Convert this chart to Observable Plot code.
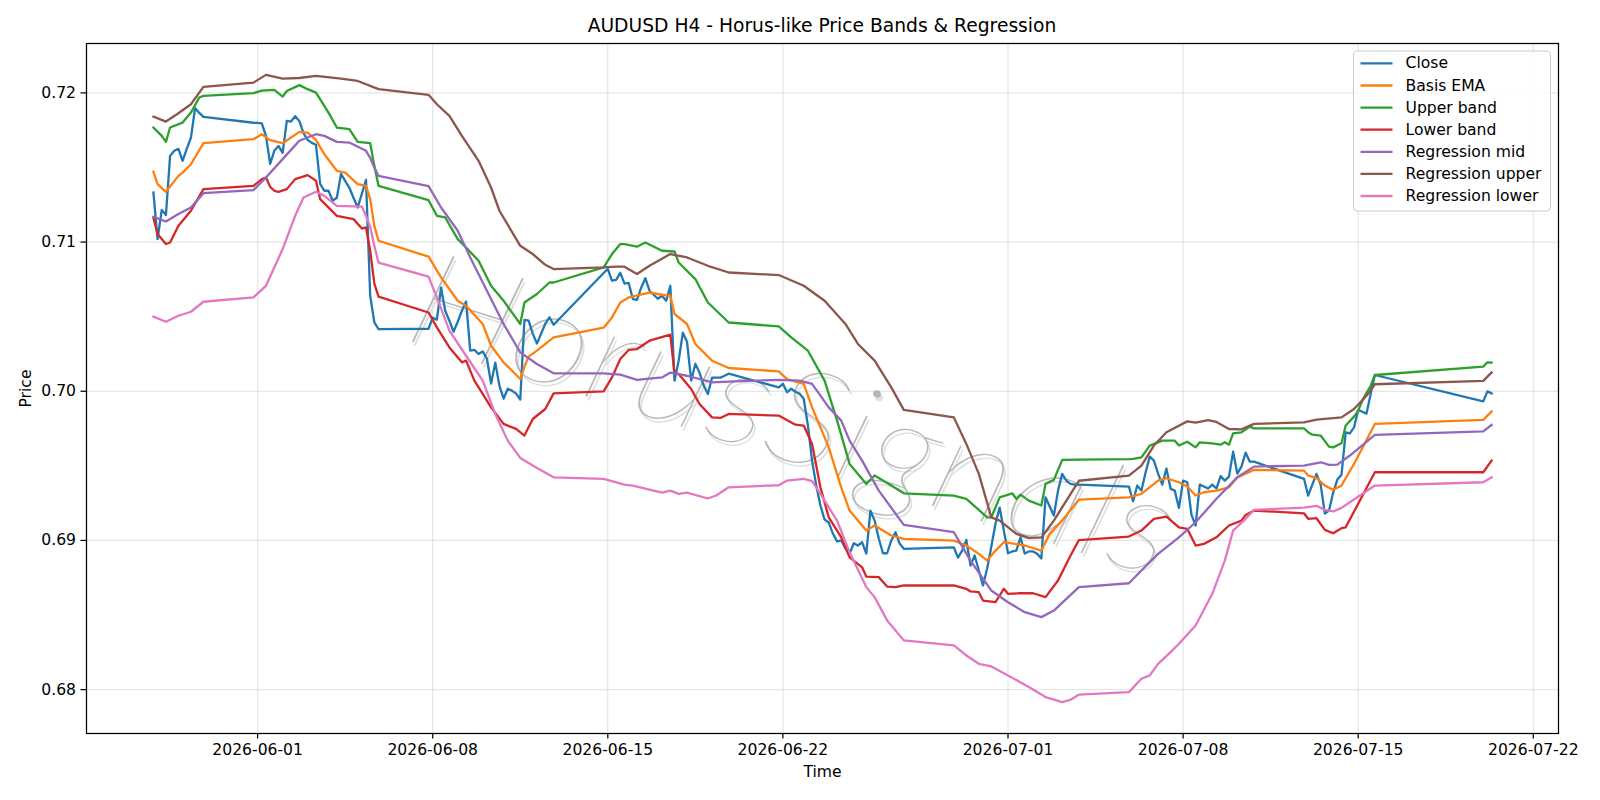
<!DOCTYPE html>
<html><head><meta charset="utf-8">
<script src="https://cdn.jsdelivr.net/npm/d3@7"></script>
<script src="https://cdn.jsdelivr.net/npm/@observablehq/plot@0.6"></script>
<style>
html,body{margin:0;padding:0;background:#fff;}
#wrap{width:1600px;height:800px;position:relative;overflow:hidden;font-family:"DejaVu Sans",sans-serif;background:#fff;}
#title{box-sizing:border-box;width:1600px;height:40px;padding:17px 42px 0 86px;text-align:center;font-size:18.7px;line-height:1;color:#000;white-space:nowrap;}
#chart svg{display:block;}
</style></head><body>
<div id="wrap"><div id="title">AUDUSD H4 - Horus-like Price Bands &amp; Regression</div><div id="chart"></div></div>
<script>
const closeData = [
["2026-05-27 20",0.71332],["2026-05-28 00",0.7102],["2026-05-28 04",0.71216],["2026-05-28 08",0.71181],["2026-05-28 12",0.71578],["2026-05-28 16",0.71612],["2026-05-28 20",0.71625],["2026-05-29 00",0.71545],["2026-05-29 04",0.71625],["2026-05-29 08",0.717],["2026-05-29 12",0.71898],["2026-05-29 16",0.71866],["2026-05-29 20",0.71839],
["2026-05-31 20",0.718],
["2026-06-01 00",0.71799],["2026-06-01 04",0.71796],["2026-06-01 08",0.71712],["2026-06-01 12",0.71524],["2026-06-01 16",0.71612],["2026-06-01 20",0.71645],
["2026-06-02 00",0.71598],["2026-06-02 04",0.71812],["2026-06-02 08",0.71808],["2026-06-02 12",0.71844],["2026-06-02 16",0.71812],["2026-06-02 20",0.7173],
["2026-06-03 00",0.71685],["2026-06-03 04",0.71665],["2026-06-03 08",0.71652],["2026-06-03 12",0.7139],["2026-06-03 16",0.71344],["2026-06-03 20",0.71344],
["2026-06-04 00",0.71277],["2026-06-04 04",0.71297],["2026-06-04 08",0.71457],["2026-06-04 12",0.7141],["2026-06-04 16",0.71364],["2026-06-04 20",0.71297],
["2026-06-05 00",0.71232],["2026-06-05 04",0.71323],["2026-06-05 08",0.71417],["2026-06-05 12",0.7064],["2026-06-05 16",0.70461],["2026-06-05 20",0.70417],
["2026-06-07 20",0.70419],
["2026-06-08 00",0.70493],["2026-06-08 04",0.7048],["2026-06-08 08",0.70694],["2026-06-08 12",0.7054],["2026-06-08 16",0.70473],["2026-06-08 20",0.70399],
["2026-06-09 00",0.70466],["2026-06-09 04",0.7054],["2026-06-09 08",0.70602],["2026-06-09 12",0.70272],["2026-06-09 16",0.70277],["2026-06-09 20",0.7025],
["2026-06-10 00",0.70267],["2026-06-10 04",0.70218],["2026-06-10 08",0.70051],["2026-06-10 12",0.70192],["2026-06-10 16",0.70038],["2026-06-10 20",0.6995],
["2026-06-11 00",0.70017],["2026-06-11 04",0.70004],["2026-06-11 08",0.69984],["2026-06-11 12",0.69944],["2026-06-11 16",0.70478],["2026-06-11 20",0.70473],
["2026-06-12 00",0.70386],["2026-06-12 04",0.70319],["2026-06-12 08",0.70386],["2026-06-12 12",0.70453],["2026-06-12 16",0.70496],["2026-06-12 20",0.70446],
["2026-06-14 20",0.70793],
["2026-06-15 00",0.7082],["2026-06-15 04",0.70741],["2026-06-15 08",0.70747],["2026-06-15 12",0.70794],["2026-06-15 16",0.70721],["2026-06-15 20",0.70727],
["2026-06-16 00",0.70618],["2026-06-16 04",0.70613],["2026-06-16 08",0.70694],["2026-06-16 12",0.70758],["2026-06-16 16",0.70674],["2026-06-16 20",0.70647],
["2026-06-17 00",0.7062],["2026-06-17 04",0.7064],["2026-06-17 08",0.70607],["2026-06-17 12",0.70707],["2026-06-17 16",0.70071],["2026-06-17 20",0.70205],
["2026-06-18 00",0.70392],["2026-06-18 04",0.70332],["2026-06-18 08",0.70071],["2026-06-18 12",0.70185],["2026-06-18 16",0.70125],["2026-06-18 20",0.70038],
["2026-06-19 00",0.69982],["2026-06-19 04",0.70091],["2026-06-19 08",0.70091],["2026-06-19 12",0.70091],["2026-06-19 16",0.70104],["2026-06-19 20",0.70118],
["2026-06-21 20",0.70026],
["2026-06-22 00",0.7005],["2026-06-22 04",0.69993],["2026-06-22 08",0.70017],["2026-06-22 12",0.69997],["2026-06-22 16",0.69984],["2026-06-22 20",0.6995],
["2026-06-23 00",0.6977],["2026-06-23 04",0.69535],["2026-06-23 08",0.69368],["2026-06-23 12",0.69234],["2026-06-23 16",0.6914],["2026-06-23 20",0.6912],
["2026-06-24 00",0.69046],["2026-06-24 04",0.68993],["2026-06-24 08",0.69],["2026-06-24 12",0.68946],["2026-06-24 16",0.68912],["2026-06-24 20",0.68981],
["2026-06-25 00",0.68966],["2026-06-25 04",0.68988],["2026-06-25 08",0.68912],["2026-06-25 12",0.692],["2026-06-25 16",0.69133],["2026-06-25 20",0.69013],
["2026-06-26 00",0.68914],["2026-06-26 04",0.68914],["2026-06-26 08",0.69],["2026-06-26 12",0.69055],["2026-06-26 16",0.68979],["2026-06-26 20",0.68944],
["2026-06-28 20",0.68954],
["2026-06-29 00",0.68885],["2026-06-29 04",0.68932],["2026-06-29 08",0.69004],["2026-06-29 12",0.68832],["2026-06-29 16",0.68899],["2026-06-29 20",0.68798],
["2026-06-30 00",0.68698],["2026-06-30 04",0.68812],["2026-06-30 08",0.68959],["2026-06-30 12",0.69113],["2026-06-30 16",0.6922],["2026-06-30 20",0.69066],
["2026-07-01 00",0.68914],["2026-07-01 04",0.68926],["2026-07-01 08",0.68932],["2026-07-01 12",0.69021],["2026-07-01 16",0.68912],["2026-07-01 20",0.68926],
["2026-07-02 00",0.68926],["2026-07-02 04",0.6891],["2026-07-02 08",0.68879],["2026-07-02 12",0.69289],["2026-07-02 16",0.69227],["2026-07-02 20",0.69167],
["2026-07-03 00",0.69334],["2026-07-03 04",0.69446],["2026-07-03 08",0.694],["2026-07-03 12",0.69379],["2026-07-03 16",0.69374],["2026-07-03 20",0.69374],
["2026-07-05 20",0.69361],
["2026-07-06 00",0.69263],["2026-07-06 04",0.69368],["2026-07-06 08",0.69334],["2026-07-06 12",0.69455],["2026-07-06 16",0.69562],["2026-07-06 20",0.69535],
["2026-07-07 00",0.69448],["2026-07-07 04",0.69374],["2026-07-07 08",0.69482],["2026-07-07 12",0.69346],["2026-07-07 16",0.69334],["2026-07-07 20",0.69218],
["2026-07-08 00",0.69401],["2026-07-08 04",0.6939],["2026-07-08 08",0.69173],["2026-07-08 12",0.691],["2026-07-08 16",0.69374],["2026-07-08 20",0.69361],
["2026-07-09 00",0.69348],["2026-07-09 04",0.69374],["2026-07-09 08",0.69348],["2026-07-09 12",0.69431],["2026-07-09 16",0.69401],["2026-07-09 20",0.69428],
["2026-07-10 00",0.69595],["2026-07-10 04",0.69448],["2026-07-10 08",0.69495],["2026-07-10 12",0.69589],["2026-07-10 16",0.69528],["2026-07-10 20",0.69528],
["2026-07-12 20",0.69413],
["2026-07-13 00",0.69301],["2026-07-13 04",0.69374],["2026-07-13 08",0.69446],["2026-07-13 12",0.69374],["2026-07-13 16",0.6918],["2026-07-13 20",0.692],
["2026-07-14 00",0.69321],["2026-07-14 04",0.69408],["2026-07-14 08",0.69441],["2026-07-14 12",0.69725],["2026-07-14 16",0.69718],["2026-07-14 20",0.69758],
["2026-07-15 00",0.69875],["2026-07-15 04",0.69863],["2026-07-15 08",0.6985],["2026-07-15 12",0.69984],["2026-07-15 16",0.70109],
["2026-07-20 00",0.69932],["2026-07-20 04",0.69999],["2026-07-20 08",0.69986]
];
const basisEma = [
["2026-05-27 20",0.71471],["2026-05-28 00",0.71388],["2026-05-28 08",0.71337],["2026-05-28 20",0.71444],["2026-05-29 00",0.71466],["2026-05-29 08",0.71522],["2026-05-29 20",0.71663],
["2026-05-31 20",0.7169],["2026-06-01 04",0.71723],["2026-06-01 12",0.71683],["2026-06-02 00",0.71663],["2026-06-02 16",0.71739],["2026-06-03 00",0.71734],["2026-06-03 08",0.71685],["2026-06-03 16",0.71589],["2026-06-04 04",0.71478],["2026-06-04 12",0.71466],["2026-06-05 00",0.71388],["2026-06-05 08",0.71377],["2026-06-05 12",0.71288],["2026-06-05 16",0.71109],["2026-06-05 20",0.71009],
["2026-06-07 20",0.70902],["2026-06-08 08",0.70763],["2026-06-09 00",0.70607],["2026-06-09 08",0.70573],["2026-06-10 00",0.70451],["2026-06-10 08",0.70305],["2026-06-10 20",0.70194],["2026-06-11 12",0.70082],["2026-06-11 16",0.70165],["2026-06-11 20",0.70232],["2026-06-12 04",0.70272],["2026-06-12 20",0.70361],
["2026-06-14 20",0.70426],["2026-06-15 04",0.70495],["2026-06-15 12",0.70595],["2026-06-15 20",0.70629],["2026-06-16 16",0.70662],["2026-06-17 04",0.70647],["2026-06-17 12",0.7064],["2026-06-17 16",0.70518],["2026-06-18 04",0.70451],["2026-06-18 12",0.70317],["2026-06-19 04",0.70205],["2026-06-19 20",0.70156],
["2026-06-21 20",0.70133],["2026-06-22 04",0.70082],["2026-06-22 20",0.70049],["2026-06-23 04",0.69892],["2026-06-23 20",0.69624],["2026-06-24 08",0.69354],["2026-06-24 16",0.692],["2026-06-25 08",0.69066],["2026-06-25 16",0.691],["2026-06-26 08",0.69033],["2026-06-26 20",0.69011],
["2026-06-28 20",0.68999],["2026-06-29 08",0.68966],["2026-06-29 20",0.6891],["2026-06-30 04",0.68865],["2026-06-30 12",0.68932],["2026-06-30 20",0.68988],["2026-07-01 04",0.68981],["2026-07-01 16",0.68966],["2026-07-02 08",0.68932],["2026-07-02 16",0.69044],["2026-07-03 04",0.69133],["2026-07-03 20",0.69273],
["2026-07-05 20",0.69289],["2026-07-06 08",0.69312],["2026-07-07 00",0.69401],["2026-07-07 08",0.69417],["2026-07-07 20",0.6939],["2026-07-08 04",0.69361],["2026-07-08 12",0.69301],["2026-07-08 20",0.69323],["2026-07-09 08",0.69334],["2026-07-09 20",0.69356],["2026-07-10 04",0.69423],["2026-07-10 20",0.69473],
["2026-07-12 20",0.69468],["2026-07-13 00",0.69435],["2026-07-13 08",0.69419],["2026-07-13 16",0.69368],["2026-07-14 00",0.69339],["2026-07-14 08",0.69368],["2026-07-14 20",0.69513],["2026-07-15 16",0.69781],
["2026-07-20 00",0.69808],["2026-07-20 08",0.69865]
];
const upperBand = [
["2026-05-27 20",0.71768],["2026-05-28 04",0.71712],["2026-05-28 08",0.71672],["2026-05-28 12",0.71768],["2026-05-29 00",0.71801],["2026-05-29 08",0.71868],["2026-05-29 16",0.71969],["2026-05-29 20",0.7198],
["2026-05-31 20",0.71998],["2026-06-01 04",0.72015],["2026-06-01 16",0.7202],["2026-06-02 00",0.71975],["2026-06-02 04",0.72013],["2026-06-02 16",0.72052],["2026-06-03 00",0.72025],["2026-06-03 08",0.72002],["2026-06-03 20",0.71868],["2026-06-04 04",0.71768],["2026-06-04 16",0.71757],["2026-06-05 00",0.71672],["2026-06-05 12",0.71663],["2026-06-05 16",0.71511],["2026-06-05 20",0.71377],
["2026-06-07 20",0.71281],["2026-06-08 04",0.71176],["2026-06-08 12",0.71165],["2026-06-09 00",0.7102],["2026-06-09 08",0.70964],["2026-06-09 20",0.70875],["2026-06-10 08",0.70707],["2026-06-10 20",0.70607],["2026-06-11 12",0.70451],["2026-06-11 16",0.70595],["2026-06-12 04",0.70652],["2026-06-12 16",0.70729],["2026-06-12 20",0.70729],
["2026-06-14 20",0.7083],["2026-06-15 04",0.7092],["2026-06-15 12",0.70987],["2026-06-15 16",0.70987],["2026-06-16 04",0.70969],["2026-06-16 12",0.70997],["2026-06-17 04",0.70942],["2026-06-17 16",0.70937],["2026-06-17 20",0.70863],["2026-06-18 12",0.70752],["2026-06-19 00",0.70595],["2026-06-19 20",0.70461],
["2026-06-21 20",0.70435],["2026-06-22 08",0.70361],["2026-06-23 00",0.70272],["2026-06-23 16",0.70071],["2026-06-24 04",0.69803],["2026-06-24 16",0.69513],["2026-06-25 08",0.69379],["2026-06-25 16",0.69435],["2026-06-26 08",0.69368],["2026-06-26 20",0.69316],
["2026-06-28 20",0.69301],["2026-06-29 08",0.69279],["2026-06-30 04",0.69155],["2026-06-30 08",0.69155],["2026-06-30 16",0.69289],["2026-07-01 04",0.69316],["2026-07-01 08",0.69279],["2026-07-01 12",0.69307],["2026-07-01 20",0.69267],["2026-07-02 08",0.69234],["2026-07-02 12",0.69379],["2026-07-02 20",0.69406],["2026-07-03 04",0.6954],["2026-07-03 20",0.69542],
["2026-07-05 20",0.69545],["2026-07-06 00",0.69547],["2026-07-06 08",0.69557],["2026-07-06 16",0.69636],["2026-07-07 04",0.69669],["2026-07-07 16",0.69669],["2026-07-07 20",0.69636],["2026-07-08 04",0.69662],["2026-07-08 12",0.69624],["2026-07-08 16",0.69658],["2026-07-09 04",0.69651],["2026-07-09 12",0.69642],["2026-07-09 16",0.69658],["2026-07-09 20",0.69642],["2026-07-10 00",0.69718],["2026-07-10 08",0.69725],["2026-07-10 16",0.69763],["2026-07-10 20",0.69751],
["2026-07-12 20",0.69751],["2026-07-13 00",0.69725],["2026-07-13 04",0.69709],["2026-07-13 12",0.69703],["2026-07-13 20",0.69629],["2026-07-14 00",0.69624],["2026-07-14 08",0.69651],["2026-07-14 12",0.6977],["2026-07-14 20",0.6983],["2026-07-15 00",0.6987],["2026-07-15 04",0.69937],["2026-07-15 08",0.6999],["2026-07-15 12",0.70037],["2026-07-15 16",0.70109],
["2026-07-20 00",0.70165],["2026-07-20 04",0.70194],["2026-07-20 08",0.70192]
];
const lowerBand = [
["2026-05-27 20",0.71165],["2026-05-28 00",0.71054],["2026-05-28 08",0.70987],["2026-05-28 12",0.70997],["2026-05-28 20",0.71109],["2026-05-29 08",0.7121],["2026-05-29 20",0.71355],
["2026-05-31 20",0.71377],["2026-06-01 04",0.71422],["2026-06-01 08",0.71433],["2026-06-01 12",0.7137],["2026-06-01 16",0.71344],["2026-06-01 20",0.71337],["2026-06-02 04",0.71355],["2026-06-02 12",0.71422],["2026-06-03 00",0.71449],["2026-06-03 08",0.71411],["2026-06-03 12",0.71288],["2026-06-04 04",0.71176],["2026-06-04 20",0.71154],["2026-06-05 04",0.71091],["2026-06-05 08",0.71098],["2026-06-05 12",0.70942],["2026-06-05 16",0.70721],["2026-06-05 20",0.70634],
["2026-06-07 20",0.70528],["2026-06-08 04",0.70428],["2026-06-08 16",0.70294],["2026-06-09 04",0.70194],["2026-06-09 08",0.70205],["2026-06-09 16",0.70071],["2026-06-10 08",0.69892],["2026-06-10 20",0.69781],["2026-06-11 08",0.69748],["2026-06-11 16",0.69703],["2026-06-12 00",0.69814],["2026-06-12 12",0.69881],["2026-06-12 20",0.69986],
["2026-06-14 20",0.69999],["2026-06-15 04",0.70093],["2026-06-15 12",0.70216],["2026-06-15 20",0.70277],["2026-06-16 04",0.70283],["2026-06-16 16",0.70339],["2026-06-17 12",0.70379],["2026-06-17 16",0.70116],["2026-06-17 20",0.70116],["2026-06-18 08",0.70015],["2026-06-18 16",0.69915],["2026-06-19 04",0.69825],["2026-06-19 12",0.69821],["2026-06-19 20",0.69848],
["2026-06-21 20",0.69837],["2026-06-22 12",0.69776],["2026-06-22 20",0.6977],["2026-06-23 04",0.69647],["2026-06-23 12",0.69356],["2026-06-23 20",0.69155],["2026-06-24 08",0.69021],["2026-06-24 16",0.68887],["2026-06-25 04",0.6882],["2026-06-25 08",0.68758],["2026-06-25 20",0.68754],["2026-06-26 04",0.68691],["2026-06-26 12",0.68687],["2026-06-26 20",0.68698],
["2026-06-28 20",0.68698],["2026-06-29 08",0.68676],["2026-06-29 12",0.68658],["2026-06-29 20",0.68653],["2026-06-30 00",0.68597],["2026-06-30 12",0.68586],["2026-06-30 20",0.68676],["2026-07-01 00",0.68642],["2026-07-01 12",0.68646],["2026-07-02 00",0.68646],["2026-07-02 12",0.6862],["2026-07-03 00",0.68731],["2026-07-03 12",0.68899],["2026-07-03 20",0.69002],
["2026-07-05 20",0.69026],["2026-07-06 08",0.69066],["2026-07-06 20",0.69145],["2026-07-07 08",0.6916],["2026-07-07 20",0.69088],["2026-07-08 04",0.69078],["2026-07-08 12",0.68966],["2026-07-08 20",0.68977],["2026-07-09 08",0.69021],["2026-07-09 20",0.691],["2026-07-10 08",0.69133],["2026-07-10 12",0.69171],["2026-07-10 20",0.692],
["2026-07-12 20",0.69182],["2026-07-13 00",0.69145],["2026-07-13 08",0.69149],["2026-07-13 16",0.69071],["2026-07-14 00",0.69048],["2026-07-14 08",0.69082],["2026-07-14 12",0.69088],["2026-07-15 16",0.69457],
["2026-07-20 00",0.69457],["2026-07-20 08",0.69535]
];
const regressionMid = [
["2026-05-27 20",0.71169],["2026-05-28 08",0.71138],["2026-05-28 20",0.71188],["2026-05-29 08",0.71232],["2026-05-29 20",0.71328],
["2026-05-31 20",0.71348],["2026-06-01 08",0.71433],["2026-06-02 00",0.71556],["2026-06-02 16",0.71679],["2026-06-03 08",0.71723],["2026-06-03 16",0.71712],["2026-06-04 04",0.71672],["2026-06-04 16",0.71667],["2026-06-05 08",0.71612],["2026-06-05 12",0.71565],["2026-06-05 16",0.71498],["2026-06-05 20",0.71444],
["2026-06-07 20",0.71375],["2026-06-08 08",0.71232],["2026-06-09 00",0.71076],["2026-06-09 12",0.70897],["2026-06-10 04",0.70674],["2026-06-10 20",0.70451],["2026-06-11 12",0.70261],["2026-06-12 04",0.70183],["2026-06-12 20",0.7012],
["2026-06-14 20",0.7012],["2026-06-15 12",0.70111],["2026-06-16 04",0.70076],["2026-06-17 04",0.70093],["2026-06-17 12",0.70125],["2026-06-18 04",0.70104],["2026-06-19 04",0.7006],["2026-06-19 20",0.70065],
["2026-06-21 20",0.70076],["2026-06-22 16",0.70071],["2026-06-23 04",0.70049],["2026-06-23 20",0.69892],["2026-06-24 08",0.69803],["2026-06-24 16",0.69669],["2026-06-25 04",0.69535],["2026-06-25 20",0.69334],["2026-06-26 20",0.69104],
["2026-06-28 20",0.69055],["2026-06-29 12",0.68865],["2026-06-30 08",0.68664],["2026-07-01 00",0.68586],["2026-07-01 16",0.68519],["2026-07-02 08",0.68486],["2026-07-02 20",0.6853],["2026-07-03 20",0.68687],
["2026-07-05 20",0.68713],["2026-07-06 08",0.68798],["2026-07-07 00",0.6891],["2026-07-07 20",0.69021],["2026-07-08 12",0.69122],["2026-07-09 08",0.69279],["2026-07-10 04",0.69423],["2026-07-10 20",0.69495],
["2026-07-12 20",0.69502],["2026-07-13 12",0.69524],["2026-07-13 20",0.69506],["2026-07-14 04",0.69508],["2026-07-14 16",0.69569],["2026-07-15 16",0.69707],
["2026-07-20 00",0.69731],["2026-07-20 08",0.69774]
];
const regressionUpper = [
["2026-05-27 20",0.71841],["2026-05-28 08",0.71808],["2026-05-28 20",0.71864],["2026-05-29 08",0.71924],["2026-05-29 20",0.7204],
["2026-05-31 20",0.72069],["2026-06-01 08",0.72121],["2026-06-02 00",0.72096],["2026-06-02 16",0.721],["2026-06-03 08",0.72114],["2026-06-04 08",0.72096],["2026-06-05 00",0.7208],["2026-06-05 20",0.72025],
["2026-06-07 20",0.71987],["2026-06-08 04",0.71924],["2026-06-08 16",0.71846],["2026-06-09 04",0.71712],["2026-06-09 20",0.71545],["2026-06-10 08",0.71366],["2026-06-10 16",0.7121],["2026-06-11 12",0.70975],["2026-06-12 00",0.7092],["2026-06-12 12",0.70848],["2026-06-12 20",0.70819],
["2026-06-14 20",0.7083],["2026-06-15 08",0.70835],["2026-06-15 16",0.70835],["2026-06-16 04",0.70786],["2026-06-16 16",0.70841],["2026-06-17 12",0.7092],["2026-06-18 04",0.70897],["2026-06-19 00",0.70841],["2026-06-19 20",0.70796],
["2026-06-21 20",0.70779],["2026-06-22 20",0.70707],["2026-06-23 16",0.70607],["2026-06-24 12",0.70451],["2026-06-25 00",0.70317],["2026-06-25 16",0.70205],["2026-06-26 08",0.70026],["2026-06-26 20",0.69875],
["2026-06-28 20",0.69825],["2026-06-29 08",0.69647],["2026-06-29 20",0.69446],["2026-06-30 08",0.69155],["2026-06-30 16",0.69133],["2026-07-01 08",0.69044],["2026-07-01 20",0.69017],["2026-07-02 08",0.6902],["2026-07-02 20",0.69133],["2026-07-03 08",0.69267],["2026-07-03 20",0.694],
["2026-07-05 20",0.69435],["2026-07-06 08",0.69502],["2026-07-06 20",0.69636],["2026-07-07 08",0.69725],["2026-07-08 04",0.69798],["2026-07-08 12",0.69789],["2026-07-09 00",0.69807],["2026-07-09 08",0.69794],["2026-07-09 20",0.69747],["2026-07-10 08",0.69745],["2026-07-10 20",0.69781],
["2026-07-12 20",0.69792],["2026-07-13 08",0.6981],["2026-07-14 08",0.69825],["2026-07-14 20",0.69881],["2026-07-15 08",0.6997],["2026-07-15 16",0.70047],
["2026-07-20 00",0.7007],["2026-07-20 08",0.70126]
];
const regressionLower = [
["2026-05-27 20",0.705],["2026-05-28 08",0.70466],["2026-05-28 20",0.70506],["2026-05-29 08",0.70533],["2026-05-29 20",0.706],
["2026-05-31 20",0.70629],["2026-06-01 08",0.70707],["2026-06-02 00",0.70953],["2026-06-02 12",0.71176],["2026-06-02 20",0.71299],["2026-06-03 08",0.71337],["2026-06-03 16",0.7131],["2026-06-04 04",0.71243],["2026-06-05 04",0.71238],["2026-06-05 08",0.71176],["2026-06-05 12",0.71102],["2026-06-05 16",0.70975],["2026-06-05 20",0.70863],
["2026-06-07 20",0.70768],["2026-06-08 04",0.70629],["2026-06-08 16",0.70406],["2026-06-09 08",0.70238],["2026-06-10 00",0.70071],["2026-06-10 12",0.69848],["2026-06-11 00",0.69669],["2026-06-11 12",0.69553],["2026-06-12 04",0.69486],["2026-06-12 20",0.69423],
["2026-06-14 20",0.69413],["2026-06-15 16",0.69374],["2026-06-16 00",0.69368],["2026-06-17 04",0.69321],["2026-06-17 12",0.69334],["2026-06-17 20",0.69312],["2026-06-18 04",0.69321],["2026-06-19 00",0.69281],["2026-06-19 08",0.69301],["2026-06-19 20",0.69356],
["2026-06-21 20",0.6937],["2026-06-22 04",0.69401],["2026-06-22 20",0.69413],["2026-06-23 04",0.69397],["2026-06-23 12",0.69312],["2026-06-24 04",0.69133],["2026-06-24 16",0.6892],["2026-06-25 08",0.68687],["2026-06-25 16",0.6862],["2026-06-26 04",0.68464],["2026-06-26 20",0.6833],
["2026-06-28 20",0.68296],["2026-06-29 08",0.68229],["2026-06-29 20",0.68173],["2026-06-30 08",0.68155],["2026-07-01 00",0.68095],["2026-07-01 20",0.68017],["2026-07-02 12",0.6795],["2026-07-03 04",0.67916],["2026-07-03 12",0.67932],["2026-07-03 20",0.67966],
["2026-07-05 20",0.67983],["2026-07-06 08",0.68073],["2026-07-06 16",0.68095],["2026-07-07 00",0.68173],["2026-07-07 12",0.68251],["2026-07-07 20",0.68307],["2026-07-08 12",0.6843],["2026-07-09 04",0.68642],["2026-07-09 16",0.68865],["2026-07-10 00",0.69066],["2026-07-10 12",0.69145],["2026-07-10 20",0.69205],
["2026-07-12 20",0.6922],["2026-07-13 08",0.69232],["2026-07-13 16",0.69205],["2026-07-14 00",0.69194],["2026-07-14 08",0.69218],["2026-07-14 16",0.69256],["2026-07-15 16",0.69368],
["2026-07-20 00",0.6939],["2026-07-20 08",0.69423]
];
const seriesNames = ["Close","Basis EMA","Upper band","Lower band","Regression mid","Regression upper","Regression lower"];
const seriesColors = ["#1f77b4","#ff7f0e","#2ca02c","#d62728","#9467bd","#8c564b","#e377c2"];
const xTickLabels = ["2026-06-01","2026-06-08","2026-06-15","2026-06-22","2026-07-01","2026-07-08","2026-07-15","2026-07-22"];
const yTickValues = [0.68,0.69,0.70,0.71,0.72];
const titleText = "AUDUSD H4 - Horus-like Price Bands & Regression";
const xLabel = "Time", yLabel = "Price", watermarkText = "HorusSignals";

const parseTime = d3.utcParse("%Y-%m-%d %H");
const parseDay = d3.utcParse("%Y-%m-%d");
const seriesArrays = [closeData, basisEma, upperBand, lowerBand, regressionMid, regressionUpper, regressionLower];
const tables = seriesArrays.map(arr => arr.map(([t, v]) => ({t: parseTime(t), v})));
const flat = tables.flat();
const [t0, t1] = d3.extent(flat, d => d.t);
const [v0, v1] = d3.extent(flat, d => d.v);
const padT = (t1 - t0) * 0.05, padV = (v1 - v0) * 0.05;
const xDomain = [new Date(+t0 - padT), new Date(+t1 + padT)];
const yDomain = [v0 - padV, v1 + padV];
const xTicks = xTickLabels.map(parseDay);

const FS = 15.6;
const gridStyle = {stroke: "#b0b0b0", strokeOpacity: 0.32, strokeWidth: 1.25};

function watermark(index, scales, values, dim) {
  const fw = dim.width - dim.marginLeft - dim.marginRight;
  const fh = dim.height - dim.marginTop - dim.marginBottom;
  const cx = dim.marginLeft + fw * 0.482, cy = dim.marginTop + fh * 0.53;
  const g = d3.create("svg:g").attr("transform", `translate(${cx},${cy}) rotate(17.5)`);
  const common = t => t.attr("text-anchor", "middle").attr("dominant-baseline", "central")
    .attr("font-family", "Lato, Inter, 'DejaVu Sans'").attr("font-weight", 200).attr("font-style", "italic")
    .attr("font-size", 134).attr("textLength", 795).attr("lengthAdjust", "spacingAndGlyphs")
    .text(watermarkText);
  common(g.append("text").attr("x", 3).attr("y", 3).attr("fill", "#e0e0e0"));
  common(g.append("text").attr("fill", "#b0b0b0").attr("fill-opacity", 0.9));
  return g.node();
}

function legend(index, scales, values, dim) {
  const right = dim.width - dim.marginRight - 7.5;
  const top = dim.marginTop + 8;
  const w = 197, h = 160, left = right - w;
  const g = d3.create("svg:g").attr("text-anchor", "start");
  g.append("rect").attr("x", left).attr("y", top).attr("width", w).attr("height", h)
    .attr("rx", 4).attr("fill", "#fff").attr("fill-opacity", 0.8)
    .attr("stroke", "#cccccc").attr("stroke-width", 1.1);
  seriesNames.forEach((name, i) => {
    const y = top + 12.4 + i * 22.1;
    g.append("line").attr("x1", left + 7).attr("x2", left + 39).attr("y1", y).attr("y2", y)
      .attr("stroke", seriesColors[i]).attr("stroke-width", 2.3);
    g.append("text").attr("x", left + 52).attr("y", y).attr("dominant-baseline", "central")
      .attr("text-anchor", "start")
      .attr("font-family", "DejaVu Sans").attr("font-size", FS).attr("fill", "#000").text(name);
  });
  return g.node();
}

const lineMarks = tables.map((tab, i) => Plot.line(tab, {
  x: "t", y: "v", stroke: seriesColors[i], strokeWidth: 2.3,
  strokeLinejoin: "round", strokeLinecap: "square"
}));

const chart = Plot.plot({
  width: 1600, height: 760,
  marginLeft: 86, marginRight: 42, marginTop: 3, marginBottom: 67,
  style: {fontFamily: "DejaVu Sans", fontSize: FS + "px", color: "#000", background: "#fff"},
  x: {type: "utc", domain: xDomain},
  y: {type: "linear", domain: yDomain},
  marks: [
    Plot.gridX(xTicks, gridStyle),
    Plot.gridY(yTickValues, gridStyle),
    watermark,
    ...lineMarks,
    Plot.frame({stroke: "#000", strokeWidth: 1.25}),
    Plot.axisX(xTicks, {tickFormat: d3.utcFormat("%Y-%m-%d"), tickSize: 5.5, tickPadding: 5, label: null, fontSize: FS, strokeWidth: 1.25}),
    Plot.axisY(yTickValues, {tickFormat: d3.format(".2f"), tickSize: 5.5, tickPadding: 5, label: null, fontSize: FS, strokeWidth: 1.25}),
    Plot.text([xLabel], {text: d => d, frameAnchor: "bottom", dy: 38.5, lineAnchor: "middle", fontSize: FS, fill: "#000"}),
    Plot.text([yLabel], {text: d => d, frameAnchor: "left", dx: -60.5, rotate: -90, textAnchor: "middle", lineAnchor: "middle", fontSize: FS, fill: "#000"}),
    legend
  ]
});
document.getElementById("title").textContent = titleText;
document.getElementById("chart").appendChild(chart);
</script></body></html>
